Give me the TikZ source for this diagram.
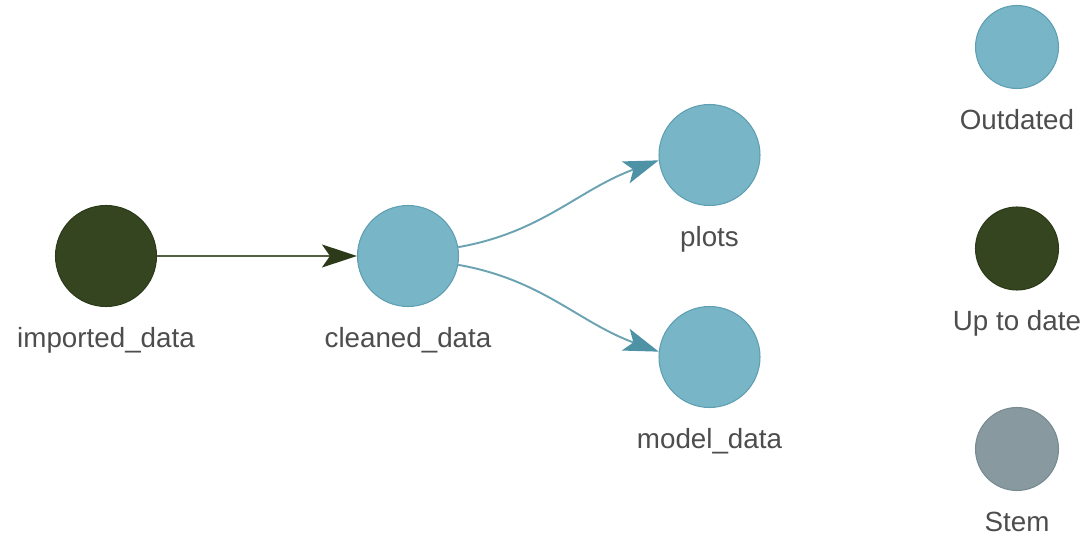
\documentclass[tikz,border=0pt]{standalone}
\usepackage{fontspec}
\setmainfont{Liberation Sans}
\usetikzlibrary{positioning, arrows.meta}
\definecolor{ink}{HTML}{4D4D4D}
\definecolor{outd}{HTML}{78B5C6}
\definecolor{outdline}{HTML}{5E9FB1}
\definecolor{outdtip}{HTML}{4E93A5}
\definecolor{uptd}{HTML}{354520}
\definecolor{uptdline}{HTML}{2C3A1A}
\definecolor{stem}{HTML}{8899A0}
\definecolor{stemline}{HTML}{788A91}
\tikzset{
  every node/.style = {text=ink},
  tgbase/.style  = {circle, inner sep=0pt, line width=0.6pt, minimum size=2.02cm},
  tgout/.style   = {tgbase, draw=outdline, fill=outd},
  tgup/.style    = {tgbase, draw=uptdline, fill=uptd},
  tgstem/.style  = {tgbase, draw=stemline, fill=stem},
  tgkey/.style   = {minimum size=1.66cm},
  tglab/.style   = {inner sep=0pt, text height=0.4cm, text depth=0.12cm,
                    font=\fontsize{15.8pt}{18pt}\selectfont},
  tggo/.style    = {-{Stealth[length=7mm,width=4.6mm,inset=1.6mm]}, line width=1.1pt},
  tggoup/.style  = {tggo, draw=uptd!85!white, -{Stealth[length=7mm,width=4.6mm,inset=1.6mm,fill=uptdline,color=uptdline]}},
  tggoout/.style = {tggo, draw=outd!90!black, -{Stealth[length=7mm,width=4.6mm,inset=1.6mm,fill=outdtip,color=outdtip]}},
}

\begin{document}
\begin{tikzpicture}
\useasboundingbox (0,0) rectangle (21.78,-10.8);

% targets
\node[tgup]  (imported) at (2.12,-5.12) {};
\node[tgout] (cleaned)  at (8.16,-5.12) {};
\node[tgout] (plots)    at (14.19,-3.10) {};
\node[tgout] (model)    at (14.19,-7.14) {};

\node[tglab, below=4mm of imported] (limported) {imported\_data};
\node[tglab, below=4mm of cleaned]  (lcleaned)  {cleaned\_data};
\node[tglab, below=4mm of plots]    (lplots)    {plots};
\node[tglab, below=4mm of model]    (lmodel)    {model\_data};

% legend
\node[tgout, tgkey]  (kout)  at (20.34,-0.94) {};
\node[tgup, tgkey]   (kup)   at (20.34,-4.97) {};
\node[tgstem, tgkey] (kstem) at (20.34,-8.98) {};

\node[tglab, below=4mm of kout]  (lkout)  {Outdated};
\node[tglab, below=4mm of kup]   (lkup)   {Up to date};
\node[tglab, below=4mm of kstem] (lkstem) {Stem};

\draw[tggoup]  (imported) -- (cleaned);
\draw[tggoout] (cleaned.10)  to[out=10, in=200]  (plots.186);
\draw[tggoout] (cleaned.350) to[out=-10, in=160] (model.174);
\end{tikzpicture}
\end{document}
